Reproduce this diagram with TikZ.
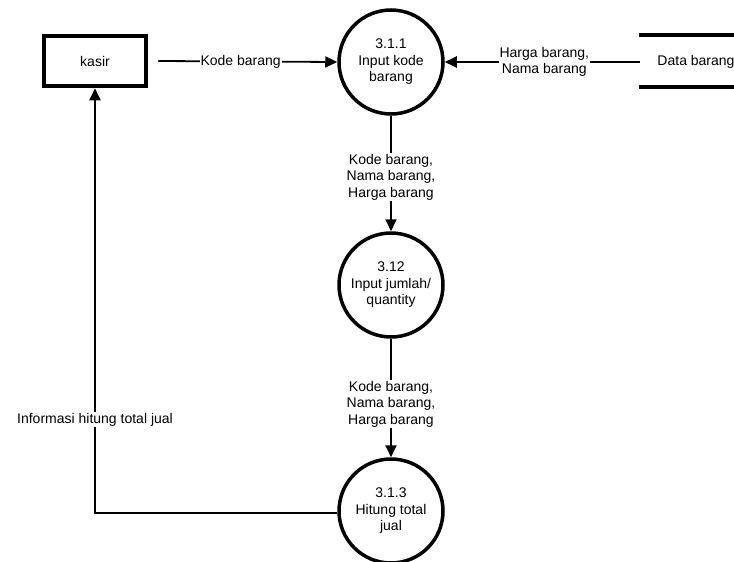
\documentclass[tikz,border=0pt]{standalone}
\usepackage{fontspec}
\setmainfont{Liberation Sans}
\usetikzlibrary{arrows.meta}
\begin{document}
\begin{tikzpicture}[x=1pt,y=-1pt,
  txt/.style={font=\fontsize{14}{16.5}\selectfont},
  proc/.style={circle,draw,line width=3.5pt,minimum size=104pt,inner sep=0pt,
    align=center,txt},
  ent/.style={draw,line width=4.5pt,minimum width=102pt,minimum height=50pt,txt},
  flow/.style={line width=1.8pt,-{Triangle[length=12pt,width=11pt]}},
  lbl/.style={fill=white,inner sep=1pt,align=center,txt}]
\useasboundingbox (0,0) rectangle (734,562);

% processes
\node[proc] (p1) at (391,62)  {3.1.1\\Input kode\\barang};
\node[proc] (p2) at (391,285) {3.12\\Input jumlah/\\quantity};
\node[proc] (p3) at (391,511) {3.1.3\\Hitung total\\jual};

% external entity
\node[ent] (kasir) at (95,61) {kasir};

% data store
\node[txt] (store) at (696,62) {Data barang};
\draw[line width=4pt] (639,35) -- (734,35);
\draw[line width=4pt] (639,87) -- (734,87);
\coordinate (storeL) at (640,62);
\coordinate (bend) at (95,513);

% flows
\draw[flow] (kasir.east) ++(10pt,0) coordinate (kasirR) -- (p1.west)
  node[lbl,pos=0.46] {Kode barang};
\draw[flow] (storeL) -- (p1.east)
  node[lbl,pos=0.49] {Harga barang,\\Nama barang};
\draw[flow] (p1.south) -- (p2.north)
  node[lbl,pos=0.53] {Kode barang,\\Nama barang,\\Harga barang};
\draw[flow] (p2.south) -- (p3.north)
  node[lbl,pos=0.55] {Kode barang,\\Nama barang,\\Harga barang};
\draw[flow] (p3.west |- bend) -- (bend) -- (kasir.south)
  node[lbl,pos=0.22] {Informasi hitung total jual};
\end{tikzpicture}
\end{document}
